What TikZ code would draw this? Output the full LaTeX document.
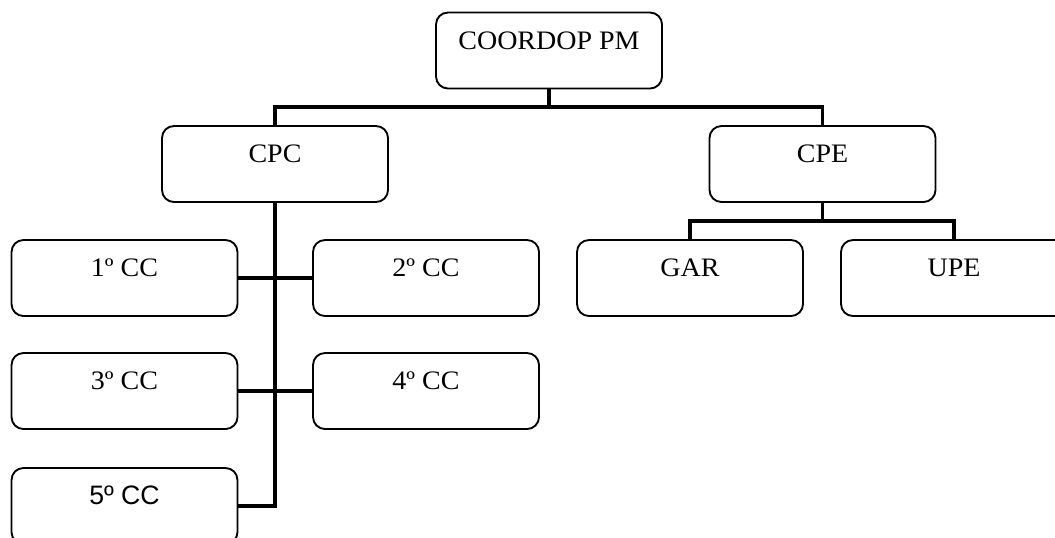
\documentclass[tikz,border=0pt]{standalone}
\usepackage{fontspec}
\setmainfont[FakeStretch=1.05]{Liberation Serif}
\newfontfamily\ccsans{Liberation Sans}
\tikzset{
  orgbox/.style={draw, rounded corners=9pt, line width=1.4pt, inner sep=0pt,
    minimum width=169.5pt, minimum height=57pt,
    text height=13pt, text depth=15pt, font=\fontsize{20}{22}\selectfont},
  link/.style={line width=2.3pt}
}
\begin{document}
\begin{tikzpicture}[x=0.75pt,y=-0.75pt]
% Organigramme COORDOP PM
\clip (0,0) rectangle (1055,537);
\node[orgbox] (top) at (549,50.5) {COORDOP PM};
\node[orgbox] (cpc) at (275,164) {CPC};
\node[orgbox] (cpe) at (822.5,164) {CPE};
\node[orgbox] (cc1) at (124.5,278) {1º CC};
\node[orgbox] (cc2) at (426,278) {2º CC};
\node[orgbox] (cc3) at (124.5,391) {3º CC};
\node[orgbox] (cc4) at (426,391) {4º CC};
\node[orgbox,font=\ccsans\fontsize{20}{22}\selectfont] (cc5) at (124.5,506) {5º CC};
\node[orgbox] (gar) at (690,278) {GAR};
\node[orgbox] (upe) at (954,278) {UPE};
\coordinate (busA) at (549,107);
\coordinate (busB) at (822.5,221);
\draw[link] (top.south) -- (busA) -| (cpc.north);
\draw[link] (busA) -| (cpe.north);
\draw[link,line width=2.6pt] (cc5.east) -| (cpc.south);
\draw[link] (cc1.east) -- (cc2.west);
\draw[link] (cc3.east) -- (cc4.west);
\draw[link] (cpe.south) -- (busB) -| (gar.north);
\draw[link] (busB) -| (upe.north);
\end{tikzpicture}
\end{document}
